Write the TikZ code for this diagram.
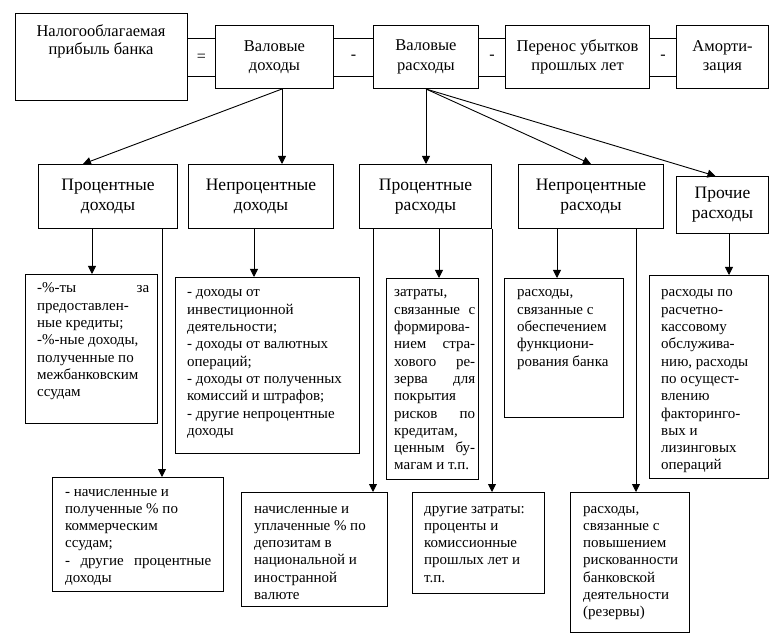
\documentclass[tikz,border=0pt]{standalone}
\usepackage{fontspec}
\setmainfont{Liberation Serif}
\usetikzlibrary{arrows.meta,calc}
\newcommand\bodytxt[2]{\parbox[t]{#1}{\fontsize{15}{17.3}\selectfont\raggedright #2}}
\begin{document}
\begin{tikzpicture}[x=1pt,y=-1pt,
  box/.style={draw, line width=1pt, inner sep=0pt, anchor=north west, fill=white,
    align=center, font=\fontsize{17.5}{20}\selectfont},
  topbox/.style={box, font=\fontsize{16.5}{19.5}\selectfont},
  conn/.style={draw, line width=1pt, inner sep=0pt, anchor=north west,
    font=\fontsize{16}{19}\selectfont},
  txt/.style={inner sep=0pt, anchor=base west},
  arr/.style={line width=0.9pt, -{Triangle[length=8pt,width=8pt]}}]
\useasboundingbox (0,0) rectangle (782,636);
\fill[white] (0,0) rectangle (782,636);
% connectors between the top boxes
\node[conn, minimum width=28pt, minimum height=38pt] (c12) at (187,38) {=};
\node[conn, minimum width=40pt, minimum height=38pt] (c23) at (333,38) {-};
\node[conn, minimum width=27pt, minimum height=38pt] (c34) at (478,38) {-};
\node[conn, minimum width=27pt, minimum height=38pt] (c45) at (649,38) {-};
% top row
\node[topbox, minimum width=172pt, minimum height=87pt] (b1) at (15,13) {};
\node[inner sep=0pt, anchor=base, font=\fontsize{16.5}{18}\selectfont] (t1) at (101,37)
  {\parbox[t]{170pt}{\centering Налогооблагаемая\\прибыль банка}};
\node[topbox, minimum width=118pt, minimum height=63pt] (b2) at (215,25) {Валовые\\доходы};
\node[topbox, minimum width=105pt, minimum height=63pt] (b3) at (373,25) {Валовые\\расходы};
\node[topbox, minimum width=144pt, minimum height=63pt] (b4) at (505,25) {Перенос убытков\\прошлых лет};
\node[topbox, minimum width=92pt, minimum height=63pt] (b5) at (676,25) {Аморти-\\зация};
% middle row
\node[box, minimum width=139pt, minimum height=64pt] (pd) at (38,164) {Процентные\\доходы};
\node[box, minimum width=145pt, minimum height=64pt] (npd) at (188,164) {Непроцентные\\доходы};
\node[box, minimum width=132pt, minimum height=64pt] (pr) at (359,164) {Процентные\\расходы};
\node[box, minimum width=145pt, minimum height=64pt] (np) at (518,164) {Непроцентные\\расходы};
\node[box, minimum width=92pt, minimum height=57pt] (pp) at (676,176) {Прочие\\расходы};
% lower boxes
\node[box, minimum width=132pt, minimum height=149pt] (a1) at (25,274) {};
\node[box, minimum width=171pt, minimum height=114pt] (a2) at (52,477) {};
\node[box, minimum width=184pt, minimum height=176pt] (bb1) at (175,277) {};
\node[box, minimum width=146pt, minimum height=114pt] (c1) at (241,492) {};
\node[box, minimum width=92pt, minimum height=201pt] (c2) at (386,278) {};
\node[box, minimum width=132pt, minimum height=101pt] (c3) at (412,492) {};
\node[box, minimum width=119pt, minimum height=139pt] (d1) at (504,278) {};
\node[box, minimum width=119pt, minimum height=140pt] (d2) at (570,492) {};
\node[box, minimum width=119pt, minimum height=203pt] (e1) at (649,275) {};
% texts
\node[txt] (ta1) at (37,293) {\bodytxt{112pt}{-\%-ты \hfill за\\предоставлен-\\ные кредиты;\\-\%-ные доходы,\\полученные по\\межбанковским\\ссудам}};
\node[txt] (tb1) at (187,297) {\bodytxt{170pt}{- доходы от\\инвестиционной\\деятельности;\\- доходы от валютных\\операций;\\- доходы от полученных\\комиссий и штрафов;\\- другие непроцентные\\доходы}};
\node[txt] (tc2) at (394,297) {\bodytxt{81pt}{затраты,\\связанные \hfill с\\формирова-\\нием \hfill стра-\\хового \hfill ре-\\зерва \hfill для\\покрытия\\рисков \hfill по\\кредитам,\\ценным \hfill бу-\\магам и т.п.}};
\node[txt] (td1) at (517,297) {\bodytxt{100pt}{расходы,\\связанные с\\обеспечением\\функциони-\\рования банка}};
\node[txt] (te1) at (661,297) {\bodytxt{100pt}{расходы по\\расчетно-\\кассовому\\обслужива-\\нию, расходы\\по осущест-\\влению\\факторинго-\\вых и\\лизинговых\\операций}};
\node[txt] (ta2) at (65,496) {\bodytxt{146pt}{- начисленные и\\полученные \% по\\коммерческим\\ссудам;\\- \hfill другие \hfill процентные\\доходы}};
\node[txt] (tc1) at (254,513) {\bodytxt{125pt}{начисленные и\\уплаченные \% по\\депозитам в\\национальной и\\иностранной\\валюте}};
\node[txt] (tc3) at (424,513) {\bodytxt{115pt}{другие затраты:\\проценты и\\комиссионные\\прошлых лет и\\т.п.}};
\node[txt] (td2) at (583,513) {\bodytxt{100pt}{расходы,\\связанные с\\повышением\\рискованности\\банковской\\деятельности\\(резервы)}};
% arrows from top boxes
\coordinate (o2) at ($(b2.south west)+(67,0)$);
\draw[arr] (o2) -- ($(pd.north west)+(45,0)$);
\draw[arr] (o2) -- (o2 |- npd.north);
\draw[arr] (b3.south) -- (b3.south |- pr.north);
\draw[arr] (b3.south) -- (np.north);
\draw[arr] (b3.south) -- ($(pp.north)+(-7,0)$);
% arrows from middle boxes
\coordinate (s1) at ($(pd.south west)+(54,0)$);
\coordinate (s2) at ($(pd.south west)+(124,0)$);
\coordinate (s3) at ($(npd.south west)+(66,0)$);
\coordinate (s4) at ($(pr.south west)+(14,0)$);
\coordinate (s5) at ($(pr.south west)+(80,0)$);
\coordinate (s6) at (pr.south east);
\coordinate (s7) at ($(np.south west)+(39,0)$);
\coordinate (s8) at ($(np.south west)+(118,0)$);
\coordinate (s9) at ($(pp.south west)+(53,0)$);
\draw[arr] (s1) -- (s1 |- a1.north);
\draw[arr] (s2) -- (s2 |- a2.north);
\draw[arr] (s3) -- (s3 |- bb1.north);
\draw[arr] (s4) -- (s4 |- c1.north);
\draw[arr] (s5) -- (s5 |- c2.north);
\draw[arr] (s6) -- (s6 |- c3.north);
\draw[arr] (s7) -- (s7 |- d1.north);
\draw[arr] (s8) -- (s8 |- d2.north);
\draw[arr] (s9) -- (s9 |- e1.north);
\end{tikzpicture}
\end{document}
